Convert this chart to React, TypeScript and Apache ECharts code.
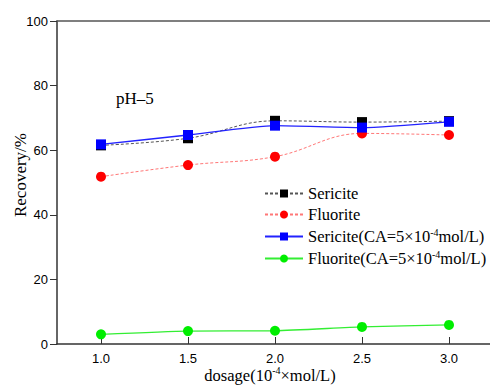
import React, { useEffect, useRef } from "react";
import * as echarts from "echarts";

const dosage = [1.0, 1.5, 2.0, 2.5, 3.0];
const sericite = [61.5, 63.7, 69.1, 68.7, 69.0];
const fluorite = [51.8, 55.4, 58.0, 65.2, 64.7];
const sericiteCA = [61.8, 64.7, 67.6, 67.0, 68.8];
const fluoriteCA = [3.0, 4.0, 4.1, 5.3, 5.9];
const yTicks = [0, 20, 40, 60, 80, 100];

const serif = "Liberation Serif";
const sans = "Liberation Sans";

export default function App() {
  const ref = useRef<HTMLDivElement>(null);
  useEffect(() => {
    const chart = echarts.init(ref.current!, undefined, { renderer: "svg" });
    const pts = (ys: number[]) => dosage.map((x, i) => [x, ys[i]]);
    const legendRich = {
      a: { fontFamily: serif, fontSize: 16.5, color: "#000" },
      s: { fontFamily: serif, fontSize: 10, color: "#000", padding: [0, 0, 9, 0] },
    };
    chart.setOption({
      animation: false,
      backgroundColor: "#fff",
      grid: [
        { left: 57, right: -2, top: 21, bottom: 41 },
        { left: 101, right: 41, top: 21, bottom: 41 },
      ],
      xAxis: [
        {
          gridIndex: 0, type: "value", min: 0, max: 1, position: "bottom",
          axisLine: { lineStyle: { color: "#333", width: 1.5 } },
          axisTick: { show: false }, axisLabel: { show: false }, splitLine: { show: false },
        },
        {
          gridIndex: 0, type: "value", min: 0, max: 1, position: "top",
          axisLine: { lineStyle: { color: "#555", width: 1.5 } },
          axisTick: { show: false }, axisLabel: { show: false }, splitLine: { show: false },
        },
        {
          gridIndex: 1, type: "value", min: 1, max: 3, interval: 0.5, position: "bottom",
          axisLine: { show: false },
          axisTick: { show: true, inside: true, length: 7, lineStyle: { color: "#333" } },
          axisLabel: {
            margin: 8, fontFamily: sans, fontSize: 13, color: "#000",
            formatter: (v: number) => v.toFixed(1),
          },
          splitLine: { show: false },
        },
      ],
      yAxis: [
        {
          gridIndex: 0, type: "value", min: 0, max: 100, interval: 20,
          axisLine: { show: true, lineStyle: { color: "#333", width: 1.5 } },
          axisTick: { show: true, inside: false, length: 7, lineStyle: { color: "#333" } },
          axisLabel: { margin: 9, fontFamily: sans, fontSize: 13, color: "#000" },
          splitLine: { show: false },
          data: yTicks,
        },
        {
          gridIndex: 1, type: "value", min: 0, max: 100, show: false,
        },
      ],
      legend: {
        orient: "vertical",
        left: 259,
        top: 180,
        itemWidth: 38,
        itemHeight: 10,
        itemGap: 4,
        textStyle: { fontFamily: serif, fontSize: 16.5, color: "#000", rich: legendRich },
        formatter: (name: string) => {
          if (name.indexOf("CA") >= 0) {
            const base = name.split("(")[0];
            return `{a|${base}(CA=5×10}{s|-4}{a|mol/L)}`;
          }
          return `{a|${name}}`;
        },
        data: [
          "Sericite",
          "Fluorite",
          "Sericite(CA=5×10-4mol/L)",
          "Fluorite(CA=5×10-4mol/L)",
        ],
      },
      graphic: [
        {
          type: "text", left: 116, top: 90,
          style: { text: "pH–5", fontFamily: serif, fontSize: 17, fill: "#000" },
        },
        {
          type: "text", x: 20, y: 175, rotation: Math.PI / 2,
          style: {
            text: "Recovery/%", fontFamily: serif, fontSize: 17, fill: "#000",
            align: "center", verticalAlign: "middle",
          },
        },
        {
          type: "text", x: 270, y: 375,
          style: {
            text: "{a|dosage(10}{s|-4}{a|×mol/L)}",
            align: "center", verticalAlign: "middle",
            rich: {
              a: { fontFamily: serif, fontSize: 16.5, fill: "#000" },
              s: { fontFamily: serif, fontSize: 10, fill: "#000", padding: [0, 0, 9, 0] },
            },
          },
        },
      ],
      series: [
        {
          name: "Sericite", type: "line", xAxisIndex: 2, yAxisIndex: 1, data: pts(sericite),
          smooth: 0.4, symbol: "rect", symbolSize: 10, clip: false, z: 2,
          itemStyle: { color: "#000" },
          lineStyle: { color: "#555", width: 1, type: [3, 2] },
        },
        {
          name: "Fluorite", type: "line", xAxisIndex: 2, yAxisIndex: 1, data: pts(fluorite),
          smooth: 0.4, symbol: "circle", symbolSize: 10, clip: false, z: 2,
          itemStyle: { color: "#ff0000" },
          lineStyle: { color: "#ff7777", width: 1, type: [3, 2] },
        },
        {
          name: "Sericite(CA=5×10-4mol/L)", type: "line", xAxisIndex: 2, yAxisIndex: 1, data: pts(sericiteCA),
          smooth: 0.2, symbol: "rect", symbolSize: 10, clip: false, z: 3,
          itemStyle: { color: "#0000ff" },
          lineStyle: { color: "#2222ff", width: 1.3 },
        },
        {
          name: "Fluorite(CA=5×10-4mol/L)", type: "line", xAxisIndex: 2, yAxisIndex: 1, data: pts(fluoriteCA),
          smooth: 0.2, symbol: "circle", symbolSize: 10, clip: false, z: 3,
          itemStyle: { color: "#00ee00" },
          lineStyle: { color: "#33ee33", width: 1.3 },
        },
      ],
    });
    return () => chart.dispose();
  }, []);
  return (
    <div
      ref={ref}
      style={{ position: "fixed", left: 0, top: 0, width: 490, height: 385 }}
    />
  );
}
